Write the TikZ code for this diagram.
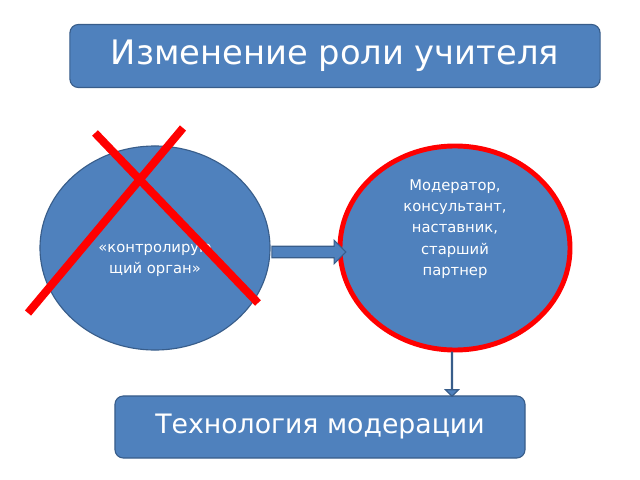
\documentclass[tikz,border=0pt]{standalone}
\usepackage{fontspec}
\setmainfont{DejaVu Sans}
\usetikzlibrary{shapes.arrows,shapes.geometric}
\definecolor{boxblue}{HTML}{4F81BD}
\definecolor{edgeblue}{HTML}{385D8A}
\begin{document}
\begin{tikzpicture}[x=0.025cm,y=-0.025cm,
        base/.style={fill=boxblue,draw=edgeblue,line width=0.8pt,text=white,align=center,inner sep=0pt},
        banner/.style={base,rounded corners=6pt},
        role/.style={base,ellipse,minimum width=5.75cm,minimum height=5.1cm,font=\fontsize{10.5}{15}\selectfont},
        newrole/.style={role,draw=red,line width=3.5pt},
        blockarrow/.style={base,single arrow,inner sep=0pt,text depth=0pt,text height=0pt}]
        \useasboundingbox (0,0) rectangle (640,480);
        % Title and bottom box
        \node[banner,minimum width=13.25cm,minimum height=1.575cm,font=\fontsize{24}{28}\selectfont] (title) at (335,56) {Изменение роли учителя};
        \node[banner,minimum width=10.25cm,minimum height=1.55cm,font=\fontsize{19}{23}\selectfont] (tech) at (320,427) {Технология модерации};
        % Roles
        \node[role] (old) at (155,248) {\\[8pt]«контролирую\\щий орган»};
        \node[newrole] (new) at (455,248) {Модератор,\\консультант,\\наставник,\\старший\\партнер\\[14pt]};
        % Arrows
        \node[blockarrow,minimum height=1.85cm,inner ysep=0.13cm,single arrow head extend=0.15cm] (toright) at (306,252) {};
        \node[blockarrow,shape border rotate=270,minimum height=1.1cm,inner ysep=0.2cm,single arrow head extend=0.15cm] (todown) at (452,374) {};
        % Red cross
        \coordinate (xa) at (95,133);
        \coordinate (xb) at (258,303);
        \coordinate (xc) at (183,128);
        \coordinate (xd) at (28,313);
        \draw[red,line width=0.2cm] (xa) -- (xb) (xc) -- (xd);
    \end{tikzpicture}
\end{document}
